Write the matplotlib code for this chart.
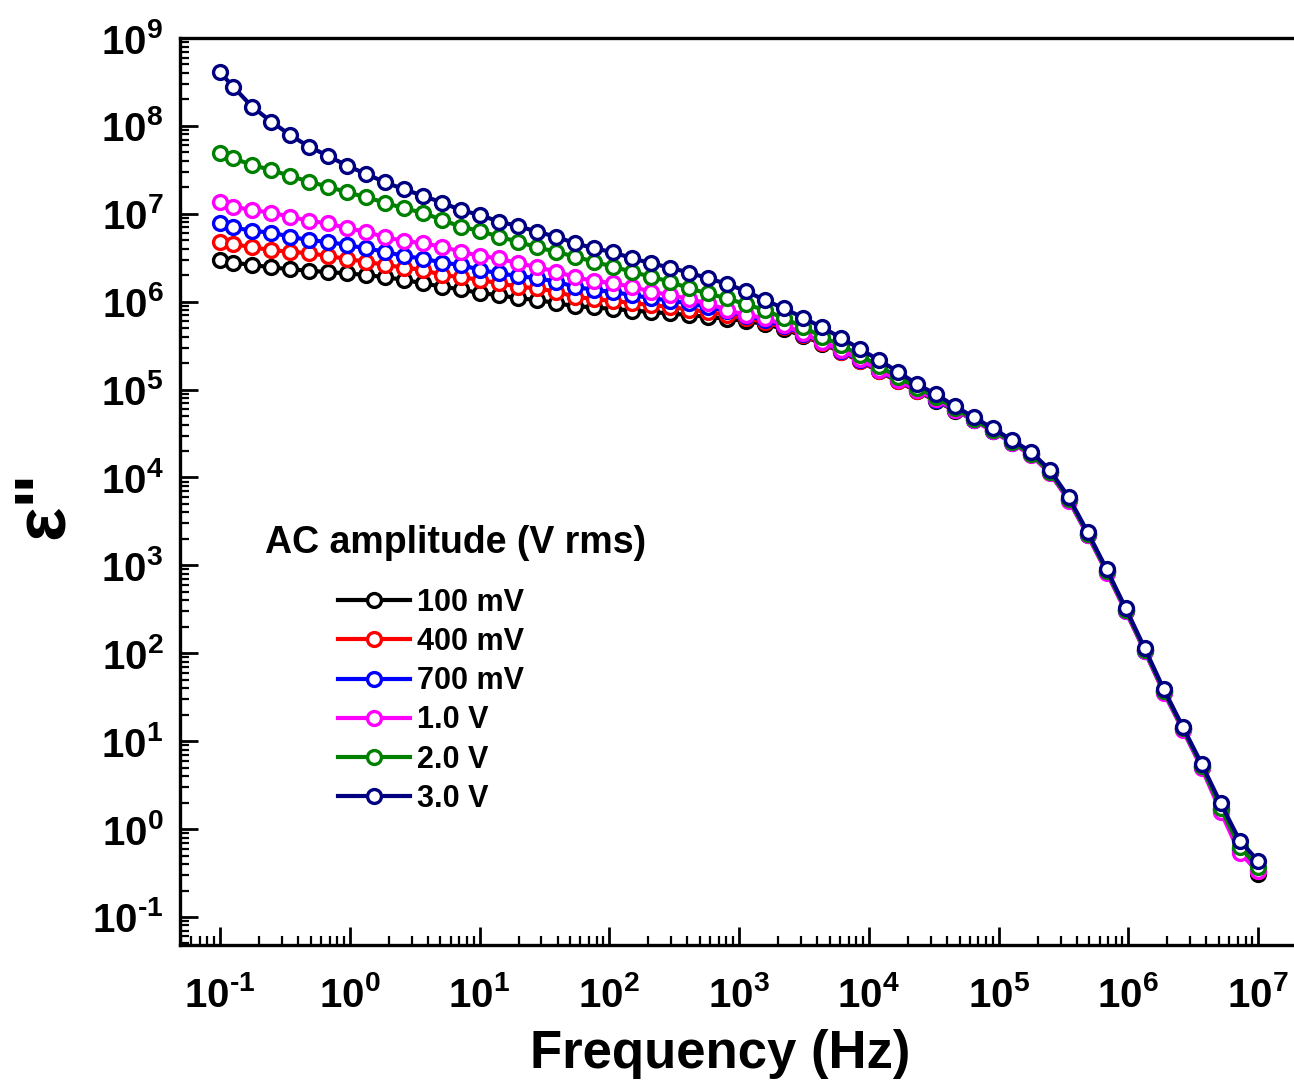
import numpy as np
import matplotlib
matplotlib.use('Agg')
import matplotlib.pyplot as plt
from matplotlib.ticker import FixedLocator, LogLocator, FuncFormatter, NullFormatter

plt.rcParams['font.family'] = ['Liberation Sans', 'DejaVu Sans']
plt.rcParams['font.weight'] = 'bold'
plt.rcParams['mathtext.fontset'] = 'custom'
plt.rcParams['mathtext.rm'] = 'Liberation Sans:bold'
plt.rcParams['mathtext.bf'] = 'Liberation Sans:bold'
plt.rcParams['axes.unicode_minus'] = False

# frequency (Hz)
freq = [0.1, 0.1265, 0.177, 0.2483, 0.3475, 0.4864, 0.6823, 0.955, 1.337, 1.875,
        2.624, 3.673, 5.152, 7.211, 10.09, 14.16, 19.82, 27.73, 38.9, 54.45,
        76.21, 106.9, 149.6, 209.4, 293.8, 411.1, 575.4, 807.2, 1130, 1581,
        2218, 3105, 4345, 6095, 8531, 11940, 16750, 23440, 32810, 46030,
        64420, 90160, 1.265e5, 1.77e5, 2.477e5, 3.475e5, 4.864e5, 6.808e5, 9.55e5, 1.337e6,
        1.871e6, 2.624e6, 3.673e6, 5.14e6, 7.211e6, 1.0e7]

# epsilon'' for each AC amplitude
eps_100mV = [2.98e6, 2.78e6, 2.62e6, 2.46e6, 2.34e6, 2.25e6, 2.17e6, 2.10e6, 2.01e6, 1.90e6,
             1.77e6, 1.62e6, 1.48e6, 1.38e6, 1.25e6, 1.19e6, 1.09e6, 1.05e6, 9.6e5, 8.93e5,
             8.59e5, 8.26e5, 7.94e5, 7.64e5, 7.34e5, 7.06e5, 6.70e5, 6.36e5, 6.03e5, 5.57e5,
             4.89e5, 4.07e5, 3.34e5, 2.68e5, 2.11e5, 1.61e5, 1.24e5, 9.6e4, 7.5e4, 5.75e4,
             4.55e4, 3.42e4, 2.53e4, 1.84e4, 1.15e4, 5.65e3, 2.26e3, 855, 308, 108,
             37.0, 13.9, 5.15, 1.68, 0.59, 0.31]
eps_400mV = [4.74e6, 4.53e6, 4.16e6, 3.87e6, 3.70e6, 3.56e6, 3.31e6, 3.06e6, 2.85e6, 2.62e6,
             2.44e6, 2.30e6, 2.01e6, 1.90e6, 1.77e6, 1.62e6, 1.48e6, 1.42e6, 1.30e6, 1.14e6,
             1.07e6, 1.02e6, 9.66e5, 9.17e5, 8.71e5, 8.15e5, 7.64e5, 7.06e5, 6.44e5, 5.88e5,
             5.09e5, 4.18e5, 3.39e5, 2.71e5, 2.14e5, 1.63e5, 1.25e5, 9.7e4, 7.6e4, 5.8e4,
             4.57e4, 3.43e4, 2.54e4, 1.85e4, 1.16e4, 5.69e3, 2.28e3, 863, 311, 109,
             37.3, 14.0, 5.22, 1.70, 0.60, 0.33]
eps_700mV = [7.9e6, 7.0e6, 6.4e6, 6.1e6, 5.5e6, 5.0e6, 4.8e6, 4.4e6, 4.05e6, 3.7e6,
             3.3e6, 3.1e6, 2.78e6, 2.62e6, 2.30e6, 2.10e6, 1.96e6, 1.85e6, 1.69e6, 1.48e6,
             1.36e6, 1.29e6, 1.19e6, 1.10e6, 1.03e6, 9.55e5, 8.71e5, 7.84e5, 6.88e5, 6.19e5,
             5.29e5, 4.29e5, 3.48e5, 2.75e5, 2.17e5, 1.65e5, 1.27e5, 9.8e4, 7.7e4, 5.85e4,
             4.53e4, 3.40e4, 2.50e4, 1.84e4, 1.14e4, 5.57e3, 2.23e3, 845, 304, 107,
             36.7, 13.8, 5.08, 1.65, 0.565, 0.343]
eps_1V = [1.35e7, 1.21e7, 1.10e7, 1.03e7, 9.27e6, 8.28e6, 7.80e6, 6.84e6, 6.25e6, 5.40e6,
          4.91e6, 4.61e6, 4.22e6, 3.70e6, 3.31e6, 3.11e6, 2.73e6, 2.48e6, 2.20e6, 1.90e6,
          1.72e6, 1.62e6, 1.48e6, 1.30e6, 1.19e6, 1.07e6, 9.59e5, 8.05e5, 7.06e5, 6.53e5,
          5.43e5, 4.37e5, 3.51e5, 2.82e5, 2.21e5, 1.67e5, 1.29e5, 9.9e4, 7.8e4, 5.9e4,
          4.46e4, 3.34e4, 2.47e4, 1.80e4, 1.12e4, 5.47e3, 2.19e3, 830, 299, 105,
          35.8, 13.4, 4.95, 1.58, 0.531, 0.334]
eps_2V = [4.88e7, 4.28e7, 3.59e7, 3.15e7, 2.69e7, 2.32e7, 2.03e7, 1.76e7, 1.54e7, 1.34e7,
          1.15e7, 1.03e7, 8.49e6, 7.13e6, 6.37e6, 5.48e6, 4.81e6, 4.15e6, 3.70e6, 3.25e6,
          2.85e6, 2.50e6, 2.19e6, 1.92e6, 1.69e6, 1.42e6, 1.24e6, 1.09e6, 9.34e5, 8.04e5,
          6.47e5, 5.19e5, 3.99e5, 3.21e5, 2.47e5, 1.85e5, 1.40e5, 1.05e5, 8.2e4, 6.1e4,
          4.57e4, 3.43e4, 2.54e4, 1.85e4, 1.16e4, 5.69e3, 2.28e3, 863, 311, 109,
          37.3, 14.0, 5.22, 1.74, 0.631, 0.367]
eps_3V = [4.07e8, 2.79e8, 1.65e8, 1.12e8, 7.87e7, 5.79e7, 4.55e7, 3.52e7, 2.84e7, 2.28e7,
          1.90e7, 1.60e7, 1.34e7, 1.10e7, 9.68e6, 8.13e6, 7.26e6, 6.25e6, 5.48e6, 4.62e6,
          4.06e6, 3.65e6, 3.12e6, 2.74e6, 2.44e6, 2.14e6, 1.85e6, 1.59e6, 1.32e6, 1.04e6,
          8.41e5, 6.58e5, 5.12e5, 3.89e5, 2.90e5, 2.17e5, 1.60e5, 1.16e5, 8.85e4, 6.50e4,
          4.84e4, 3.63e4, 2.67e4, 1.97e4, 1.22e4, 5.96e3, 2.38e3, 904, 325, 114,
          39.3, 14.6, 5.51, 1.97, 0.740, 0.435]

labels = ['100 mV', '400 mV', '700 mV', '1.0 V', '2.0 V', '3.0 V']
colors = ['#000000', '#FF0000', '#0000FF', '#FF00FF', '#008000', '#000080']
series = [eps_100mV, eps_400mV, eps_700mV, eps_1V, eps_2V, eps_3V]

x_decades = [-1, 0, 1, 2, 3, 4, 5, 6, 7]
y_decades = [-1, 0, 1, 2, 3, 4, 5, 6, 7, 8, 9]

fig = plt.figure(figsize=(12.94, 10.85), dpi=100)
ax = fig.add_axes([180 / 1294, 140 / 1085, 1 - 180 / 1294, 907 / 1085])

for y, c, lab in zip(series, colors, labels):
    ax.plot(freq, y, color=c, lw=3.0, marker='o', ms=10, mfc='white',
            mec=c, mew=2.4, label=lab)

ax.set_xscale('log')
ax.set_yscale('log')
ax.set_xlim(0.0492, 1.89e7)
ax.set_ylim(0.048, 1e9)


def sci(v, p):
    e = int(round(np.log10(v)))
    if e < 0:
        return r'$\mathbf{10^{\text{-}%d}}$' % (-e)
    return r'$\mathbf{10^{%d}}$' % e


ax.xaxis.set_major_locator(FixedLocator([10.0 ** d for d in x_decades]))
ax.yaxis.set_major_locator(FixedLocator([10.0 ** d for d in y_decades]))
ax.xaxis.set_minor_locator(LogLocator(base=10, subs=np.arange(2, 10), numticks=20))
ax.yaxis.set_minor_locator(LogLocator(base=10, subs=np.arange(2, 10), numticks=20))
ax.xaxis.set_major_formatter(FuncFormatter(sci))
ax.yaxis.set_major_formatter(FuncFormatter(sci))
ax.xaxis.set_minor_formatter(NullFormatter())
ax.yaxis.set_minor_formatter(NullFormatter())

ax.tick_params(which='major', direction='in', length=13, width=2, labelsize=29)
ax.tick_params(which='minor', direction='in', length=6.5, width=1.6)
ax.tick_params(axis='x', pad=22)
ax.tick_params(axis='y', pad=12)
ax.tick_params(top=False, right=False, which='both')

for s in ['left', 'bottom', 'top']:
    ax.spines[s].set_linewidth(2.4)
ax.spines['right'].set_visible(False)

fig.text(720 / 1294, 1 - 1054 / 1085, 'Frequency (Hz)', ha='center', va='center',
         fontsize=38, fontweight='bold')
fig.text(44 / 1294, 1 - 505 / 1085, 'ε"', ha='center', va='center', rotation=90,
         fontsize=52, fontweight='bold')

fig.text(265 / 1294, 1 - 543 / 1085, 'AC amplitude (V rms)', ha='left', va='center',
         fontsize=27, fontweight='bold')
ax.legend(loc='upper left', bbox_to_anchor=(338 / 1294, 1 - 588 / 1085),
          bbox_transform=fig.transFigure, frameon=False,
          prop={'size': 22, 'weight': 'bold'}, handlelength=2.35,
          handletextpad=0.25, labelspacing=0.3, borderpad=0, borderaxespad=0,
          numpoints=1)

fig.savefig('out.png', dpi=100)
